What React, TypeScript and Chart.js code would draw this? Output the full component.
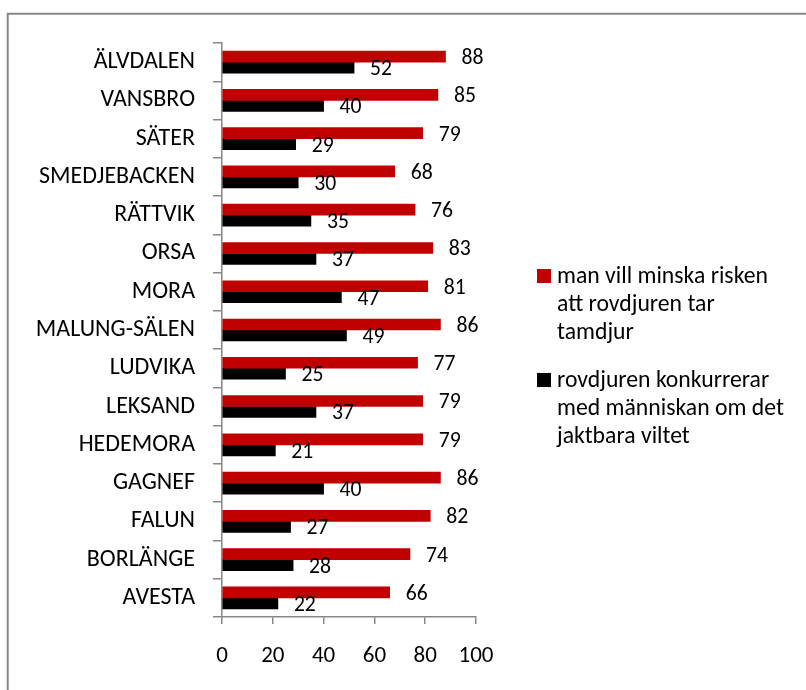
import React, { useEffect, useRef } from "react";
import { Chart, registerables } from "chart.js";

Chart.register(...registerables);

const categories = [
  "ÄLVDALEN",
  "VANSBRO",
  "SÄTER",
  "SMEDJEBACKEN",
  "RÄTTVIK",
  "ORSA",
  "MORA",
  "MALUNG-SÄLEN",
  "LUDVIKA",
  "LEKSAND",
  "HEDEMORA",
  "GAGNEF",
  "FALUN",
  "BORLÄNGE",
  "AVESTA",
];
const riskValues = [88, 85, 79, 68, 76, 83, 81, 86, 77, 79, 79, 86, 82, 74, 66];
const competitionValues = [52, 40, 29, 30, 35, 37, 47, 49, 25, 37, 21, 40, 27, 28, 22];
const xMin = 0;
const xMax = 100;
const xStep = 20;
const legendRisk = ["man vill minska risken", "att rovdjuren tar", "tamdjur"];
const legendCompetition = ["rovdjuren konkurrerar", "med människan om det", "jaktbara viltet"];

const RED = "#C00000";
const BLACK = "#000000";
const GRAY = "#878787";
const FAMILY = "Carlito, Lato, sans-serif";

function fitSize(text: string, target: number): number {
  const c = document.createElement("canvas").getContext("2d")!;
  c.font = `100px ${FAMILY}`;
  const w = c.measureText(text).width;
  return (100 * target) / w;
}

export default function App() {
  const ref = useRef<HTMLCanvasElement | null>(null);

  useEffect(() => {
    const canvas = ref.current;
    if (!canvas) return;

    const catSize = fitSize("SMEDJEBACKEN", 156);
    const tickSize = Math.max(fitSize("100", 35), 20);
    const dataSize = Math.max(fitSize("88", 22), 18.5);
    const legendSize = fitSize("man vill minska risken", 211);

    const framePlugin = {
      id: "frame",
      beforeDraw(chart: any) {
        const ctx = chart.ctx;
        ctx.save();
        ctx.fillStyle = "#ffffff";
        ctx.fillRect(0, 0, chart.width, chart.height);
        ctx.strokeStyle = GRAY;
        ctx.lineWidth = 2;
        ctx.beginPath();
        ctx.moveTo(7.7, chart.height + 2);
        ctx.lineTo(7.7, 13.8);
        ctx.lineTo(chart.width + 2, 13.8);
        ctx.stroke();
        ctx.restore();
      },
    };

    const labelPlugin = {
      id: "valueLabels",
      afterDatasetsDraw(chart: any) {
        const ctx = chart.ctx;
        ctx.save();
        ctx.font = `${dataSize}px ${FAMILY}`;
        ctx.fillStyle = "#000";
        ctx.textAlign = "left";
        ctx.textBaseline = "middle";
        chart.data.datasets.forEach((ds: any, i: number) => {
          const meta = chart.getDatasetMeta(i);
          meta.data.forEach((el: any, j: number) => {
            ctx.fillText(String(ds.data[j]), el.x + 16, el.y + 2);
          });
        });
        ctx.restore();
      },
    };

    const legendPlugin = {
      id: "customLegend",
      afterDraw(chart: any) {
        const ctx = chart.ctx;
        ctx.save();
        ctx.font = `${legendSize}px ${FAMILY}`;
        ctx.textAlign = "left";
        ctx.textBaseline = "middle";
        const entries = [
          { color: RED, lines: legendRisk, top: 269 },
          { color: BLACK, lines: legendCompetition, top: 373 },
        ];
        entries.forEach((e) => {
          ctx.fillStyle = e.color;
          ctx.fillRect(537, e.top, 14, 14);
          ctx.fillStyle = "#000";
          e.lines.forEach((t, k) => {
            ctx.fillText(t, 557, e.top + 8 + k * 28);
          });
        });
        ctx.restore();
      },
    };

    const chart = new Chart(canvas, {
      type: "bar",
      data: {
        labels: categories,
        datasets: [
          {
            label: legendRisk.join(" "),
            data: riskValues,
            backgroundColor: RED,
            barThickness: 11,
          },
          {
            label: legendCompetition.join(" "),
            data: competitionValues,
            backgroundColor: BLACK,
            barThickness: 11,
          },
        ],
      },
      options: {
        indexAxis: "y",
        animation: false,
        responsive: false,
        devicePixelRatio: 1,
        layout: { padding: { left: 0, top: 43, right: 330, bottom: 0 } },
        plugins: {
          legend: { display: false },
          tooltip: { enabled: false },
          title: { display: false },
        },
        scales: {
          y: {
            type: "category",
            offset: true,
            grid: {
              offset: true,
              drawOnChartArea: false,
              drawTicks: true,
              tickLength: 9,
              color: GRAY,
              lineWidth: 1.5,
            },
            border: { display: true, color: GRAY, width: 1.5 },
            ticks: {
              color: "#000",
              padding: 18,
              font: { family: FAMILY, size: catSize, lineHeight: 1 },
              autoSkip: false,
            },
            afterFit(s: any) {
              s.width = 222;
            },
          },
          x: {
            type: "linear",
            min: xMin,
            max: xMax,
            grid: {
              drawOnChartArea: false,
              drawTicks: true,
              tickLength: 7,
              color: GRAY,
              lineWidth: 1.5,
            },
            border: { display: true, color: GRAY, width: 1.5 },
            ticks: {
              stepSize: xStep,
              color: "#000",
              padding: 21,
              maxRotation: 0,
              font: { family: FAMILY, size: tickSize, lineHeight: 1 },
            },
            afterFit(s: any) {
              s.height = 73;
            },
          },
        },
      },
      plugins: [framePlugin, labelPlugin, legendPlugin],
    });

    return () => chart.destroy();
  }, []);

  return (
    <div style={{ position: "fixed", left: 0, top: 0, width: 806, height: 690, background: "#fff" }}>
      <canvas ref={ref} width={806} height={690} style={{ width: 806, height: 690, display: "block" }} />
    </div>
  );
}
